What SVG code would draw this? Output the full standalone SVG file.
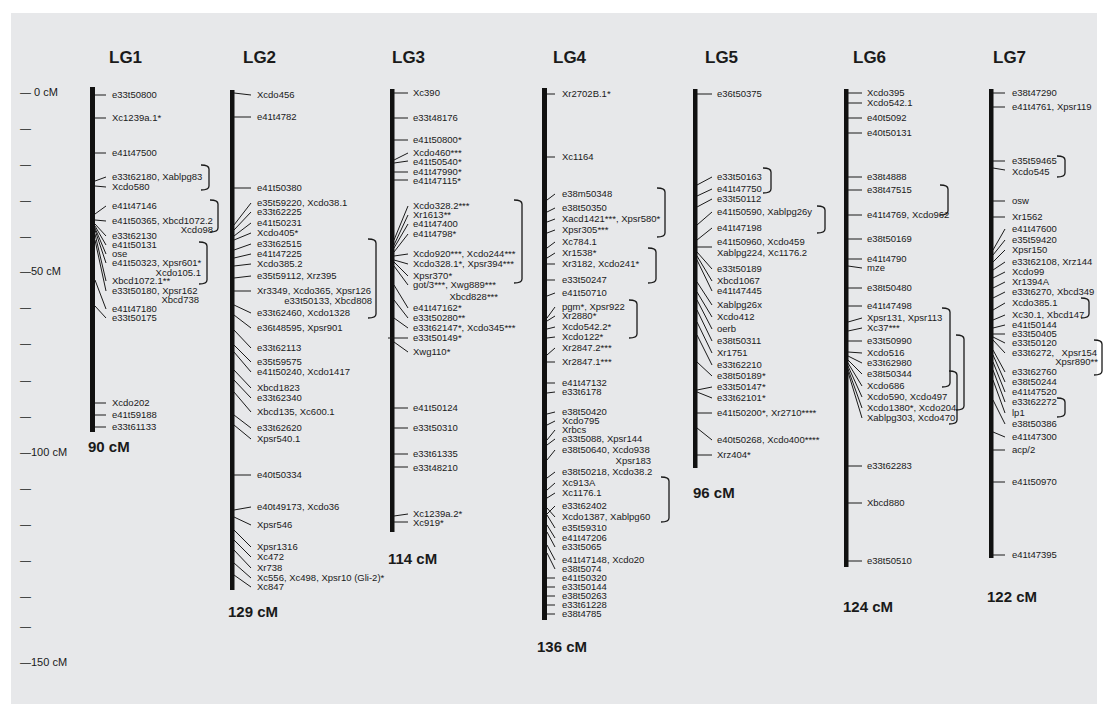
<svg xmlns="http://www.w3.org/2000/svg" width="1107" height="711" viewBox="0 0 1107 711">
<style>
.l{font-family:"Liberation Sans",Arial,sans-serif;font-size:9.5px;fill:#1a1a1a}
.r{text-anchor:end}
.h{font-family:"Liberation Sans",Arial,sans-serif;font-size:17px;font-weight:bold;fill:#1a1a1a}
.c{font-family:"Liberation Sans",Arial,sans-serif;font-size:15px;font-weight:bold;fill:#1a1a1a}
.s{font-family:"Liberation Sans",Arial,sans-serif;font-size:11px;fill:#1a1a1a}
.t line{stroke:#1a1a1a;stroke-width:1}
.b path{fill:none;stroke:#1a1a1a;stroke-width:1.3}
.bar{fill:#111}
</style>
<rect x="0" y="0" width="1107" height="711" fill="#ffffff"/>
<rect x="11" y="13" width="1086" height="691" fill="#e7e8ea"/>

<g id="scale">
<text class="s" x="20" y="96">— 0 cM</text>
<text class="s" x="20" y="132">—</text>
<text class="s" x="20" y="168">—</text>
<text class="s" x="20" y="204">—</text>
<text class="s" x="20" y="240">—</text>
<text class="s" x="20" y="275">—50 cM</text>
<text class="s" x="20" y="311">—</text>
<text class="s" x="20" y="347">—</text>
<text class="s" x="20" y="384">—</text>
<text class="s" x="20" y="420">—</text>
<text class="s" x="20" y="456">—100 cM</text>
<text class="s" x="20" y="492">—</text>
<text class="s" x="20" y="528">—</text>
<text class="s" x="20" y="564">—</text>
<text class="s" x="20" y="600">—</text>
<text class="s" x="20" y="630">—</text>
<text class="s" x="20" y="666">—150 cM</text>
</g>

<g id="LG1">
<text class="h" x="109" y="63">LG1</text>
<rect class="bar" x="90" y="87" width="5" height="345"/>
<text class="l" x="112" y="98">e33t50800</text>
<text class="l" x="112" y="121">Xc1239a.1*</text>
<text class="l" x="112" y="156">e41t47500</text>
<text class="l" x="112" y="180">e33t62180, Xablpg83</text>
<text class="l" x="112" y="190">Xcdo580</text>
<text class="l" x="112" y="209">e41t47146</text>
<text class="l" x="112" y="224">e41t50365, Xbcd1072.2</text>
<text class="l r" x="213" y="233">Xcdo98</text>
<text class="l" x="112" y="239">e33t62130</text>
<text class="l" x="112" y="248">e41t50131</text>
<text class="l" x="112" y="257">ose</text>
<text class="l" x="112" y="266">e41t50323, Xpsr601*</text>
<text class="l r" x="201" y="276">Xcdo105.1</text>
<text class="l" x="112" y="284">Xbcd1072.1**</text>
<text class="l" x="112" y="294">e33t50180, Xpsr162</text>
<text class="l r" x="199" y="303">Xbcd738</text>
<text class="l" x="112" y="312">e41t47180</text>
<text class="l" x="112" y="321">e33t50175</text>
<text class="l" x="112" y="406">Xcdo202</text>
<text class="l" x="112" y="418">e41t59188</text>
<text class="l" x="112" y="430">e33t61133</text>
<text class="c" x="88" y="452">90 cM</text>
</g>

<g id="LG2">
<text class="h" x="243" y="63">LG2</text>
<rect class="bar" x="230" y="90" width="4.5" height="500"/>
<text class="l" x="257" y="98">Xcdo456</text>
<text class="l" x="257" y="120">e41t4782</text>
<text class="l" x="257" y="191">e41t50380</text>
<text class="l" x="257" y="206">e35t59220, Xcdo38.1</text>
<text class="l" x="257" y="215">e33t62225</text>
<text class="l" x="257" y="226">e41t50231</text>
<text class="l" x="257" y="236">Xcdo405*</text>
<text class="l" x="257" y="247">e33t62515</text>
<text class="l" x="257" y="257">e41t47225</text>
<text class="l" x="257" y="267">Xcdo385.2</text>
<text class="l" x="257" y="279">e35t59112, Xrz395</text>
<text class="l" x="257" y="294">Xr3349, Xcdo365, Xpsr126</text>
<text class="l r" x="372" y="304">e33t50133, Xbcd808</text>
<text class="l" x="257" y="316">e33t62460, Xcdo1328</text>
<text class="l" x="257" y="331">e36t48595, Xpsr901</text>
<text class="l" x="257" y="351">e33t62113</text>
<text class="l" x="257" y="365">e35t59575</text>
<text class="l" x="257" y="375">e41t50240, Xcdo1417</text>
<text class="l" x="257" y="391">Xbcd1823</text>
<text class="l" x="257" y="401">e33t62340</text>
<text class="l" x="257" y="415">Xbcd135, Xc600.1</text>
<text class="l" x="257" y="431">e33t62620</text>
<text class="l" x="257" y="442">Xpsr540.1</text>
<text class="l" x="257" y="478">e40t50334</text>
<text class="l" x="257" y="510">e40t49173, Xcdo36</text>
<text class="l" x="257" y="528">Xpsr546</text>
<text class="l" x="257" y="550">Xpsr1316</text>
<text class="l" x="257" y="560">Xc472</text>
<text class="l" x="257" y="571">Xr738</text>
<text class="l" x="257" y="581">Xc556, Xc498, Xpsr10 (Gli-2)*</text>
<text class="l" x="257" y="590">Xc847</text>
<text class="c" x="228" y="617">129 cM</text>
</g>

<g id="LG3">
<text class="h" x="392" y="63">LG3</text>
<rect class="bar" x="390" y="89" width="4.5" height="443"/>
<text class="l" x="413" y="96">Xc390</text>
<text class="l" x="413" y="121">e33t48176</text>
<text class="l" x="413" y="143">e41t50800*</text>
<text class="l" x="413" y="156">Xcdo460***</text>
<text class="l" x="413" y="165">e41t50540*</text>
<text class="l" x="413" y="175">e41t47990*</text>
<text class="l" x="413" y="184">e41t47115*</text>
<text class="l" x="413" y="209">Xcdo328.2***</text>
<text class="l" x="413" y="218">Xr1613**</text>
<text class="l" x="413" y="227">e41t47400</text>
<text class="l" x="413" y="237">e41t4798*</text>
<text class="l" x="413" y="257">Xcdo920***, Xcdo244***</text>
<text class="l" x="413" y="267">Xcdo328.1*, Xpsr394***</text>
<text class="l" x="413" y="279">Xpsr370*</text>
<text class="l" x="413" y="288">got/3***, Xwg889***</text>
<text class="l r" x="498" y="300">Xbcd828***</text>
<text class="l" x="413" y="311">e41t47162*</text>
<text class="l" x="413" y="321">e33t50280**</text>
<text class="l" x="413" y="331">e33t62147*, Xcdo345***</text>
<text class="l" x="413" y="341">e33t50149*</text>
<text class="l" x="413" y="355">Xwg110*</text>
<text class="l" x="413" y="411">e41t50124</text>
<text class="l" x="413" y="431">e33t50310</text>
<text class="l" x="413" y="457">e33t61335</text>
<text class="l" x="413" y="471">e33t48210</text>
<text class="l" x="413" y="517">Xc1239a.2*</text>
<text class="l" x="413" y="526">Xc919*</text>
<text class="c" x="388" y="564">114 cM</text>
</g>

<g id="LG4">
<text class="h" x="553" y="63">LG4</text>
<rect class="bar" x="542" y="88" width="5" height="532"/>
<text class="l" x="562" y="97">Xr2702B.1*</text>
<text class="l" x="562" y="160">Xc1164</text>
<text class="l" x="562" y="197">e38m50348</text>
<text class="l" x="562" y="211">e38t50350</text>
<text class="l" x="562" y="222">Xacd1421***, Xpsr580*</text>
<text class="l" x="562" y="233">Xpsr305***</text>
<text class="l" x="562" y="245">Xc784.1</text>
<text class="l" x="562" y="256">Xr1538*</text>
<text class="l" x="562" y="267">Xr3182, Xcdo241*</text>
<text class="l" x="562" y="283">e33t50247</text>
<text class="l" x="562" y="296">e41t50710</text>
<text class="l" x="562" y="310">pgm*, Xpsr922</text>
<text class="l" x="562" y="319">Xr2880*</text>
<text class="l" x="562" y="330">Xcdo542.2*</text>
<text class="l" x="562" y="340">Xcdo122*</text>
<text class="l" x="562" y="351">Xr2847.2***</text>
<text class="l" x="562" y="365">Xr2847.1***</text>
<text class="l" x="562" y="386">e41t47132</text>
<text class="l" x="562" y="395">e33t6178</text>
<text class="l" x="562" y="415">e38t50420</text>
<text class="l" x="562" y="424">Xcdo795</text>
<text class="l" x="562" y="433">Xrbcs</text>
<text class="l" x="562" y="442">e33t5088, Xpsr144</text>
<text class="l" x="562" y="453">e38t50640, Xcdo938</text>
<text class="l r" x="651" y="464">Xpsr183</text>
<text class="l" x="562" y="475">e38t50218, Xcdo38.2</text>
<text class="l" x="562" y="486">Xc913A</text>
<text class="l" x="562" y="496">Xc1176.1</text>
<text class="l" x="562" y="509">e33t62402</text>
<text class="l" x="562" y="520">Xcdo1387, Xablpg60</text>
<text class="l" x="562" y="531">e35t59310</text>
<text class="l" x="562" y="541">e41t47206</text>
<text class="l" x="562" y="550">e33t5065</text>
<text class="l" x="562" y="563">e41t47148, Xcdo20</text>
<text class="l" x="562" y="572">e38t5074</text>
<text class="l" x="562" y="581">e41t50320</text>
<text class="l" x="562" y="590">e33t50144</text>
<text class="l" x="562" y="599">e38t50263</text>
<text class="l" x="562" y="608">e33t61228</text>
<text class="l" x="562" y="617">e38t4785</text>
<text class="c" x="537" y="652">136 cM</text>
</g>

<g id="LG5">
<text class="h" x="705" y="63">LG5</text>
<rect class="bar" x="693" y="89" width="4.5" height="379"/>
<text class="l" x="717" y="97">e36t50375</text>
<text class="l" x="717" y="180">e33t50163</text>
<text class="l" x="717" y="192">e41t47750</text>
<text class="l" x="717" y="202">e33t50112</text>
<text class="l" x="717" y="215">e41t50590, Xablpg26y</text>
<text class="l" x="717" y="231">e41t47198</text>
<text class="l" x="717" y="245">e41t50960, Xcdo459</text>
<text class="l" x="717" y="256">Xablpg224, Xc1176.2</text>
<text class="l" x="717" y="272">e33t50189</text>
<text class="l" x="717" y="284">Xbcd1067</text>
<text class="l" x="717" y="294">e41t47445</text>
<text class="l" x="717" y="308">Xablpg26x</text>
<text class="l" x="717" y="320">Xcdo412</text>
<text class="l" x="717" y="332">oerb</text>
<text class="l" x="717" y="344">e38t50311</text>
<text class="l" x="717" y="356">Xr1751</text>
<text class="l" x="717" y="368">e33t62210</text>
<text class="l" x="717" y="379">e38t50189*</text>
<text class="l" x="717" y="390">e33t50147*</text>
<text class="l" x="717" y="401">e33t62101*</text>
<text class="l" x="717" y="416">e41t50200*, Xr2710****</text>
<text class="l" x="717" y="443">e40t50268, Xcdo400****</text>
<text class="l" x="717" y="458">Xrz404*</text>
<text class="c" x="693" y="498">96 cM</text>
</g>

<g id="LG6">
<text class="h" x="853" y="63">LG6</text>
<rect class="bar" x="844" y="89" width="4.5" height="478"/>
<text class="l" x="867" y="96">Xcdo395</text>
<text class="l" x="867" y="106">Xcdo542.1</text>
<text class="l" x="867" y="121">e40t5092</text>
<text class="l" x="867" y="136">e40t50131</text>
<text class="l" x="867" y="180">e38t4888</text>
<text class="l" x="867" y="193">e38t47515</text>
<text class="l" x="867" y="218">e41t4769, Xcdo962</text>
<text class="l" x="867" y="242">e38t50169</text>
<text class="l" x="867" y="262">e41t4790</text>
<text class="l" x="867" y="271">mze</text>
<text class="l" x="867" y="291">e38t50480</text>
<text class="l" x="867" y="309">e41t47498</text>
<text class="l" x="867" y="321">Xpsr131, Xpsr113</text>
<text class="l" x="867" y="331">Xc37***</text>
<text class="l" x="867" y="344">e33t50990</text>
<text class="l" x="867" y="356">Xcdo516</text>
<text class="l" x="867" y="366">e33t62980</text>
<text class="l" x="867" y="377">e38t50344</text>
<text class="l" x="867" y="389">Xcdo686</text>
<text class="l" x="867" y="400">Xcdo590, Xcdo497</text>
<text class="l" x="867" y="411">Xcdo1380*, Xcdo204</text>
<text class="l" x="867" y="421">Xablpg303, Xcdo470</text>
<text class="l" x="867" y="469">e33t62283</text>
<text class="l" x="867" y="506">Xbcd880</text>
<text class="l" x="867" y="564">e38t50510</text>
<text class="c" x="843" y="612">124 cM</text>
</g>

<g id="LG7">
<text class="h" x="993" y="63">LG7</text>
<rect class="bar" x="989" y="89" width="4.5" height="469"/>
<text class="l" x="1012" y="96">e38t47290</text>
<text class="l" x="1012" y="110">e41t4761, Xpsr119</text>
<text class="l" x="1012" y="164">e35t59465</text>
<text class="l" x="1012" y="175">Xcdo545</text>
<text class="l" x="1012" y="204">osw</text>
<text class="l" x="1012" y="220">Xr1562</text>
<text class="l" x="1012" y="232">e41t47600</text>
<text class="l" x="1012" y="243">e35t59420</text>
<text class="l" x="1012" y="253">Xpsr150</text>
<text class="l" x="1012" y="265">e33t62108, Xrz144</text>
<text class="l" x="1012" y="275">Xcdo99</text>
<text class="l" x="1012" y="285">Xr1394A</text>
<text class="l" x="1012" y="295">e33t6270, Xbcd349</text>
<text class="l" x="1012" y="306">Xcdo385.1</text>
<text class="l" x="1012" y="318">Xc30.1, Xbcd147</text>
<text class="l" x="1012" y="328">e41t50144</text>
<text class="l" x="1012" y="337">e33t50405</text>
<text class="l" x="1012" y="346">e33t50120</text>
<text class="l" x="1012" y="356">e33t6272,</text>
<text class="l r" x="1097" y="356">Xpsr154</text>
<text class="l r" x="1098" y="365">Xpsr890**</text>
<text class="l" x="1012" y="375">e33t62760</text>
<text class="l" x="1012" y="385">e38t50244</text>
<text class="l" x="1012" y="395">e41t47520</text>
<text class="l" x="1012" y="405">e33t62272</text>
<text class="l" x="1012" y="416">lp1</text>
<text class="l" x="1012" y="427">e38t50386</text>
<text class="l" x="1012" y="440">e41t47300</text>
<text class="l" x="1012" y="453">acp/2</text>
<text class="l" x="1012" y="485">e41t50970</text>
<text class="l" x="1012" y="558">e41t47395</text>
<text class="c" x="987" y="602">122 cM</text>
</g>

<g id="connectors">
<g class="t">
<line x1="95" y1="95" x2="106" y2="95"/>
<line x1="95" y1="118" x2="106" y2="118"/>
<line x1="95" y1="153" x2="106" y2="153"/>
<line x1="95" y1="181" x2="106" y2="177"/>
<line x1="95" y1="186" x2="106" y2="187"/>
<line x1="95" y1="214" x2="106" y2="206"/>
<line x1="95" y1="220" x2="106" y2="221"/>
<line x1="95" y1="224" x2="106" y2="236"/>
<line x1="95" y1="226" x2="106" y2="245"/>
<line x1="95" y1="228" x2="106" y2="254"/>
<line x1="95" y1="230" x2="106" y2="263"/>
<line x1="95" y1="234" x2="106" y2="281"/>
<line x1="95" y1="240" x2="106" y2="291"/>
<line x1="95" y1="280" x2="106" y2="309"/>
<line x1="95" y1="306" x2="106" y2="318"/>
<line x1="95" y1="403" x2="106" y2="403"/>
<line x1="95" y1="415" x2="106" y2="415"/>
<line x1="95" y1="427" x2="106" y2="427"/>
<line x1="234" y1="93" x2="251" y2="95"/>
<line x1="234" y1="117" x2="251" y2="117"/>
<line x1="234" y1="188" x2="251" y2="188"/>
<line x1="234" y1="225" x2="251" y2="203"/>
<line x1="234" y1="230" x2="251" y2="212"/>
<line x1="234" y1="236" x2="251" y2="223"/>
<line x1="234" y1="240" x2="251" y2="233"/>
<line x1="234" y1="250" x2="251" y2="244"/>
<line x1="234" y1="258" x2="251" y2="254"/>
<line x1="234" y1="266" x2="251" y2="264"/>
<line x1="234" y1="278" x2="251" y2="276"/>
<line x1="234" y1="291" x2="251" y2="291"/>
<line x1="234" y1="305" x2="251" y2="313"/>
<line x1="234" y1="315" x2="251" y2="328"/>
<line x1="234" y1="330" x2="251" y2="348"/>
<line x1="234" y1="345" x2="251" y2="362"/>
<line x1="234" y1="352" x2="251" y2="372"/>
<line x1="234" y1="370" x2="251" y2="388"/>
<line x1="234" y1="380" x2="251" y2="398"/>
<line x1="234" y1="392" x2="251" y2="412"/>
<line x1="234" y1="415" x2="251" y2="428"/>
<line x1="234" y1="425" x2="251" y2="439"/>
<line x1="234" y1="475" x2="251" y2="475"/>
<line x1="234" y1="510" x2="251" y2="507"/>
<line x1="234" y1="517" x2="251" y2="525"/>
<line x1="234" y1="530" x2="251" y2="547"/>
<line x1="234" y1="540" x2="251" y2="557"/>
<line x1="234" y1="550" x2="251" y2="568"/>
<line x1="234" y1="563" x2="251" y2="578"/>
<line x1="234" y1="575" x2="251" y2="587"/>
<line x1="394" y1="93" x2="408" y2="93" stroke-width="2"/>
<line x1="394" y1="118" x2="408" y2="118" stroke="#777"/>
<line x1="394" y1="140" x2="408" y2="140"/>
<line x1="394" y1="160" x2="408" y2="153"/>
<line x1="394" y1="163" x2="408" y2="161"/>
<line x1="394" y1="172" x2="408" y2="172"/>
<line x1="394" y1="180" x2="408" y2="180"/>
<line x1="394" y1="240" x2="408" y2="206"/>
<line x1="394" y1="245" x2="408" y2="215"/>
<line x1="394" y1="248" x2="408" y2="224"/>
<line x1="394" y1="252" x2="408" y2="234"/>
<line x1="394" y1="256" x2="408" y2="254"/>
<line x1="394" y1="260" x2="408" y2="264"/>
<line x1="394" y1="262" x2="408" y2="276"/>
<line x1="394" y1="266" x2="408" y2="285"/>
<line x1="394" y1="285" x2="408" y2="308"/>
<line x1="394" y1="300" x2="408" y2="318"/>
<line x1="394" y1="318" x2="408" y2="328"/>
<line x1="388" y1="338" x2="408" y2="338"/>
<line x1="394" y1="342" x2="408" y2="352"/>
<line x1="394" y1="408" x2="408" y2="408"/>
<line x1="394" y1="428" x2="408" y2="428"/>
<line x1="394" y1="454" x2="408" y2="454"/>
<line x1="394" y1="467" x2="408" y2="467" stroke-width="2"/>
<line x1="394" y1="516" x2="408" y2="514"/>
<line x1="394" y1="522" x2="408" y2="522"/>
<line x1="547" y1="94" x2="555" y2="94"/>
<line x1="547" y1="157" x2="555" y2="157"/>
<line x1="547" y1="200" x2="555" y2="194"/>
<line x1="547" y1="212" x2="555" y2="208"/>
<line x1="547" y1="222" x2="555" y2="219"/>
<line x1="547" y1="233" x2="555" y2="230"/>
<line x1="547" y1="248" x2="555" y2="242"/>
<line x1="547" y1="258" x2="555" y2="253"/>
<line x1="547" y1="264" x2="555" y2="264"/>
<line x1="547" y1="280" x2="555" y2="280"/>
<line x1="547" y1="296" x2="555" y2="293"/>
<line x1="547" y1="318" x2="555" y2="307"/>
<line x1="547" y1="321" x2="555" y2="316"/>
<line x1="547" y1="329" x2="555" y2="327"/>
<line x1="547" y1="338" x2="555" y2="337"/>
<line x1="547" y1="355" x2="555" y2="348"/>
<line x1="547" y1="362" x2="555" y2="362"/>
<line x1="547" y1="383" x2="555" y2="383"/>
<line x1="547" y1="393" x2="555" y2="392"/>
<line x1="547" y1="414" x2="555" y2="412"/>
<line x1="547" y1="425" x2="555" y2="421"/>
<line x1="547" y1="440" x2="555" y2="430"/>
<line x1="547" y1="445" x2="555" y2="439"/>
<line x1="547" y1="460" x2="555" y2="450"/>
<line x1="547" y1="478" x2="555" y2="472"/>
<line x1="547" y1="490" x2="555" y2="483"/>
<line x1="547" y1="498" x2="555" y2="493"/>
<line x1="547" y1="514" x2="555" y2="506"/>
<line x1="547" y1="508" x2="555" y2="517"/>
<line x1="547" y1="515" x2="555" y2="528"/>
<line x1="547" y1="525" x2="555" y2="538"/>
<line x1="547" y1="532" x2="555" y2="547"/>
<line x1="547" y1="545" x2="555" y2="560"/>
<line x1="547" y1="553" x2="555" y2="569"/>
<line x1="547" y1="578" x2="555" y2="578"/>
<line x1="547" y1="587" x2="555" y2="587"/>
<line x1="547" y1="596" x2="555" y2="596"/>
<line x1="547" y1="605" x2="555" y2="605"/>
<line x1="547" y1="614" x2="555" y2="614"/>
<line x1="697" y1="94" x2="712" y2="94"/>
<line x1="697" y1="185" x2="712" y2="177"/>
<line x1="697" y1="196" x2="712" y2="189"/>
<line x1="697" y1="207" x2="712" y2="199"/>
<line x1="697" y1="225" x2="712" y2="212"/>
<line x1="697" y1="240" x2="712" y2="228"/>
<line x1="697" y1="247" x2="712" y2="247"/>
<line x1="697" y1="252" x2="712" y2="269"/>
<line x1="697" y1="256" x2="712" y2="281"/>
<line x1="697" y1="260" x2="712" y2="291"/>
<line x1="697" y1="282" x2="712" y2="305"/>
<line x1="697" y1="292" x2="712" y2="317"/>
<line x1="697" y1="300" x2="712" y2="329"/>
<line x1="697" y1="310" x2="712" y2="341"/>
<line x1="697" y1="322" x2="712" y2="353"/>
<line x1="697" y1="335" x2="712" y2="365"/>
<line x1="697" y1="362" x2="712" y2="376"/>
<line x1="697" y1="390" x2="712" y2="387"/>
<line x1="697" y1="392" x2="712" y2="398"/>
<line x1="697" y1="413" x2="712" y2="413"/>
<line x1="697" y1="428" x2="712" y2="440"/>
<line x1="697" y1="455" x2="712" y2="455"/>
<line x1="848" y1="93" x2="862" y2="93"/>
<line x1="848" y1="103" x2="862" y2="103"/>
<line x1="848" y1="118" x2="862" y2="118"/>
<line x1="848" y1="133" x2="862" y2="133"/>
<line x1="848" y1="177" x2="862" y2="177"/>
<line x1="848" y1="190" x2="862" y2="190"/>
<line x1="848" y1="215" x2="862" y2="215"/>
<line x1="848" y1="239" x2="862" y2="239"/>
<line x1="848" y1="259" x2="862" y2="259"/>
<line x1="848" y1="266" x2="862" y2="268"/>
<line x1="848" y1="288" x2="862" y2="288"/>
<line x1="848" y1="306" x2="862" y2="306"/>
<line x1="848" y1="322" x2="862" y2="318"/>
<line x1="848" y1="331" x2="862" y2="328"/>
<line x1="848" y1="341" x2="862" y2="341"/>
<line x1="848" y1="352" x2="862" y2="353"/>
<line x1="848" y1="356" x2="862" y2="363"/>
<line x1="848" y1="360" x2="862" y2="374"/>
<line x1="848" y1="363" x2="862" y2="386"/>
<line x1="848" y1="366" x2="862" y2="397"/>
<line x1="848" y1="369" x2="862" y2="408"/>
<line x1="848" y1="372" x2="862" y2="418"/>
<line x1="848" y1="466" x2="862" y2="466" stroke-width="2"/>
<line x1="848" y1="503" x2="862" y2="503"/>
<line x1="848" y1="561" x2="862" y2="561"/>
<line x1="993" y1="93" x2="1005" y2="93"/>
<line x1="993" y1="107" x2="1005" y2="107"/>
<line x1="993" y1="161" x2="1005" y2="161"/>
<line x1="993" y1="168" x2="1005" y2="170"/>
<line x1="993" y1="201" x2="1005" y2="201"/>
<line x1="993" y1="217" x2="1005" y2="217"/>
<line x1="993" y1="250" x2="1005" y2="229"/>
<line x1="993" y1="255" x2="1005" y2="240"/>
<line x1="993" y1="262" x2="1005" y2="250"/>
<line x1="993" y1="270" x2="1005" y2="262"/>
<line x1="993" y1="278" x2="1005" y2="272"/>
<line x1="993" y1="288" x2="1005" y2="282"/>
<line x1="993" y1="298" x2="1005" y2="292"/>
<line x1="993" y1="310" x2="1005" y2="303"/>
<line x1="993" y1="320" x2="1005" y2="315"/>
<line x1="993" y1="328" x2="1005" y2="325"/>
<line x1="993" y1="334" x2="1005" y2="334"/>
<line x1="993" y1="337" x2="1005" y2="343"/>
<line x1="993" y1="340" x2="1005" y2="353"/>
<line x1="993" y1="350" x2="1005" y2="372"/>
<line x1="993" y1="355" x2="1005" y2="382"/>
<line x1="993" y1="362" x2="1005" y2="392"/>
<line x1="993" y1="370" x2="1005" y2="402"/>
<line x1="993" y1="380" x2="1005" y2="413"/>
<line x1="993" y1="400" x2="1005" y2="424"/>
<line x1="993" y1="432" x2="1005" y2="437"/>
<line x1="993" y1="450" x2="1005" y2="450"/>
<line x1="993" y1="482" x2="1005" y2="482"/>
<line x1="993" y1="555" x2="1005" y2="555"/>
</g>
<g class="b">
<path d="M201 165 Q209 165 209 169 L209 186 Q209 190 201 190"/>
<path d="M210 200 Q218 200 218 204 L218 228 Q218 232 210 232"/>
<path d="M199 242 Q207 242 207 246 L207 280 Q207 284 199 284"/>
<path d="M368 239 Q376 239 376 243 L376 314 Q376 318 368 318"/>
<path d="M514 200 Q522 200 522 204 L522 279 Q522 283 514 283"/>
<path d="M657 188 Q665 188 665 192 L665 233 Q665 237 657 237"/>
<path d="M648 248 Q656 248 656 252 L656 279 Q656 283 648 283"/>
<path d="M629 300 Q637 300 637 304 L637 334 Q637 338 629 338"/>
<path d="M661 477 Q669 477 669 481 L669 518 Q669 522 661 522"/>
<path d="M763 168 Q771 168 771 172 L771 189 Q771 193 763 193"/>
<path d="M817 206 Q825 206 825 210 L825 229 Q825 233 817 233"/>
<path d="M940 185 Q948 185 948 189 L948 211 Q948 215 940 215"/>
<path d="M942 308 Q950 308 950 312 L950 383 Q950 387 942 387"/>
<path d="M956 335 Q964 335 964 339 L964 406 Q964 410 956 410"/>
<path d="M949 371 Q957 371 957 375 L957 420 Q957 424 949 424"/>
<path d="M1057 156 Q1065 156 1065 160 L1065 173 Q1065 177 1057 177"/>
<path d="M1081 298 Q1089 298 1089 302 L1089 314 Q1089 318 1081 318"/>
<path d="M1094 340 Q1102 340 1102 344 L1102 371 Q1102 375 1094 375"/>
<path d="M1057 398 Q1065 398 1065 402 L1065 413 Q1065 417 1057 417"/>
</g>
</g>
</svg>
